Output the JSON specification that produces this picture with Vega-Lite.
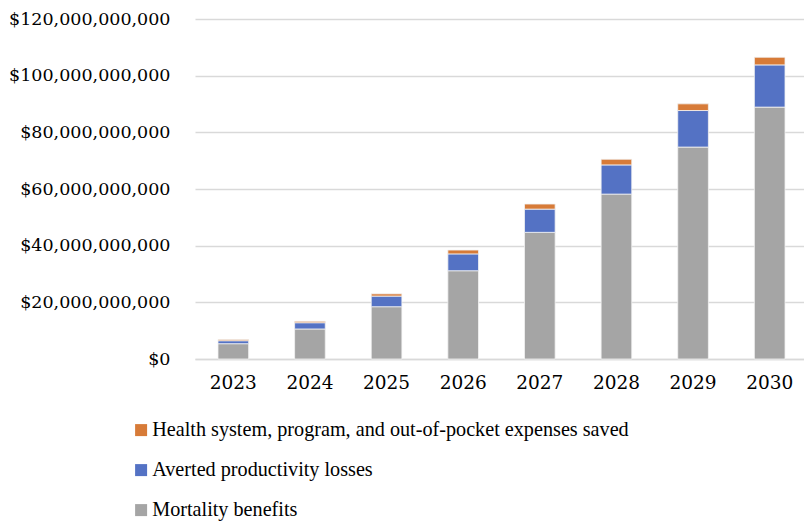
{
  "$schema": "https://vega.github.io/schema/vega-lite/v6.json",
  "width": 613,
  "height": 340,
  "autosize": "none",
  "padding": {"left": 195, "top": 19, "right": 0, "bottom": 163},
  "background": "white",
  "data": {
    "values": [
      {"year": "2023", "series": "Mortality benefits", "k": 1, "value": 5400000000},
      {"year": "2023", "series": "Averted productivity losses", "k": 2, "value": 1050000000},
      {"year": "2023", "series": "Health system, program, and out-of-pocket expenses saved", "k": 3, "value": 450000000},
      {"year": "2024", "series": "Mortality benefits", "k": 1, "value": 10600000000},
      {"year": "2024", "series": "Averted productivity losses", "k": 2, "value": 2200000000},
      {"year": "2024", "series": "Health system, program, and out-of-pocket expenses saved", "k": 3, "value": 500000000},
      {"year": "2025", "series": "Mortality benefits", "k": 1, "value": 18450000000},
      {"year": "2025", "series": "Averted productivity losses", "k": 2, "value": 3750000000},
      {"year": "2025", "series": "Health system, program, and out-of-pocket expenses saved", "k": 3, "value": 800000000},
      {"year": "2026", "series": "Mortality benefits", "k": 1, "value": 31150000000},
      {"year": "2026", "series": "Averted productivity losses", "k": 2, "value": 5950000000},
      {"year": "2026", "series": "Health system, program, and out-of-pocket expenses saved", "k": 3, "value": 1350000000},
      {"year": "2027", "series": "Mortality benefits", "k": 1, "value": 44700000000},
      {"year": "2027", "series": "Averted productivity losses", "k": 2, "value": 8200000000},
      {"year": "2027", "series": "Health system, program, and out-of-pocket expenses saved", "k": 3, "value": 1800000000},
      {"year": "2028", "series": "Mortality benefits", "k": 1, "value": 58200000000},
      {"year": "2028", "series": "Averted productivity losses", "k": 2, "value": 10300000000},
      {"year": "2028", "series": "Health system, program, and out-of-pocket expenses saved", "k": 3, "value": 2000000000},
      {"year": "2029", "series": "Mortality benefits", "k": 1, "value": 74800000000},
      {"year": "2029", "series": "Averted productivity losses", "k": 2, "value": 12900000000},
      {"year": "2029", "series": "Health system, program, and out-of-pocket expenses saved", "k": 3, "value": 2350000000},
      {"year": "2030", "series": "Mortality benefits", "k": 1, "value": 88900000000},
      {"year": "2030", "series": "Averted productivity losses", "k": 2, "value": 14900000000},
      {"year": "2030", "series": "Health system, program, and out-of-pocket expenses saved", "k": 3, "value": 2700000000}
    ]
  },
  "mark": {"type": "bar", "stroke": "#f2f2f2", "strokeWidth": 0.8},
  "encoding": {
    "x": {
      "field": "year", "type": "ordinal", "title": null,
      "scale": {"paddingInner": 0.6, "paddingOuter": 0.3},
      "axis": {"labelAngle": 0, "ticks": false, "domainColor": "#d9d9d9", "domainWidth": 1.5, "labelPadding": 14, "labelFontSize": 18.5, "labelColor": "#000000", "labelFont": "DejaVu Serif"}
    },
    "y": {
      "field": "value", "type": "quantitative", "title": null, "stack": "zero",
      "scale": {"domain": [0, 120000000000]},
      "axis": {"values": [0, 20000000000, 40000000000, 60000000000, 80000000000, 100000000000, 120000000000], "format": "$,.0f", "ticks": false, "domain": false, "gridColor": "#d9d9d9", "gridWidth": 1.5, "labelPadding": 25, "labelFontSize": 17.5, "labelColor": "#000000", "labelFont": "DejaVu Serif"}
    },
    "color": {
      "field": "series", "type": "nominal",
      "scale": {
        "domain": ["Health system, program, and out-of-pocket expenses saved", "Averted productivity losses", "Mortality benefits"],
        "range": ["#D77B38", "#5472C4", "#A5A5A5"]
      },
      "legend": {
        "title": null, "orient": "none", "legendX": -64, "legendY": 401, "direction": "vertical",
        "symbolType": "square", "symbolSize": 144, "symbolStrokeWidth": 0, "symbolOffset": 0,
        "labelFont": "Liberation Serif", "labelFontSize": 20.2, "labelColor": "#000000", "labelOffset": 1,
        "rowPadding": 19, "labelLimit": 700
      }
    },
    "order": {"field": "k", "type": "quantitative", "sort": "ascending"}
  },
  "config": {"view": {"stroke": null}}
}
